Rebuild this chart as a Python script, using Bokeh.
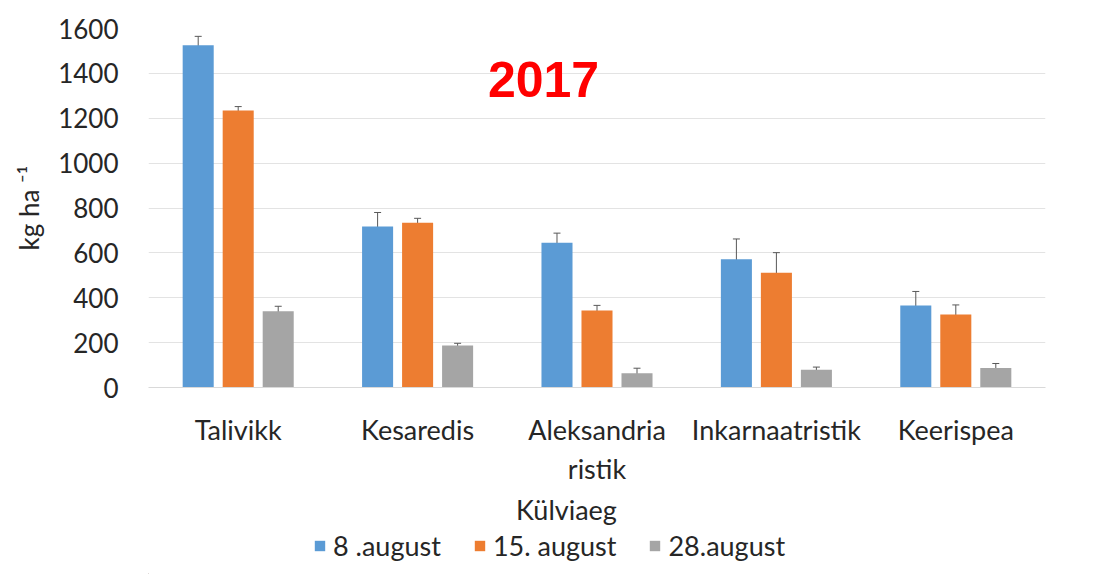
from bokeh.plotting import figure
from bokeh.layouts import column
from bokeh.models import (Range1d, FactorRange, Whisker, ColumnDataSource, Legend,
                          LegendItem, Label, TeeHead, FixedTicker)
from bokeh.transform import dodge
from bokeh.embed import file_html
from bokeh.resources import INLINE

categories = ["Talivikk", "Kesaredis", "Aleksandria\nristik", "Inkarnaatristik", "Keerispea"]
series_names = ["8 .august", "15. august", "28.august"]
aug8 = [1525, 717, 645, 572, 365]
aug8_err = [40, 63, 43, 90, 63]
aug15 = [1234, 734, 343, 511, 325]
aug15_err = [18, 20, 23, 90, 43]
aug28 = [340, 187, 64, 79, 87]
aug28_err = [22, 10, 22, 12, 20]
y_ticks = [0, 200, 400, 600, 800, 1000, 1200, 1400, 1600]
title_text = "2017"
x_title = "Külviaeg"
y_title = "kg ha \u207b\u00b9"

colors = ["#5B9BD5", "#ED7D31", "#A5A5A5"]
offsets = [-0.223, 0.0, 0.223]
FONT = "Lato"
TXT = "#262626"

src = ColumnDataSource(dict(
    cat=categories,
    v0=aug8, lo0=[v - e for v, e in zip(aug8, aug8_err)], up0=[v + e for v, e in zip(aug8, aug8_err)],
    v1=aug15, lo1=[v - e for v, e in zip(aug15, aug15_err)], up1=[v + e for v, e in zip(aug15, aug15_err)],
    v2=aug28, lo2=[v - e for v, e in zip(aug28, aug28_err)], up2=[v + e for v, e in zip(aug28, aug28_err)],
))

# ---------------- main chart ----------------
p = figure(width=1100, height=490, x_range=FactorRange(*categories), y_range=Range1d(0, 1600),
           output_backend="svg", toolbar_location=None,
           min_border_left=148, min_border_right=55, min_border_top=28, min_border_bottom=103)
p.outline_line_color = None
p.background_fill_color = "white"
p.border_fill_color = "white"

for i in range(3):
    p.vbar(x=dodge("cat", offsets[i], range=p.x_range), top=f"v{i}", width=0.173,
           source=src, fill_color=colors[i], line_color=None)
    w = Whisker(base=dodge("cat", offsets[i], range=p.x_range), upper=f"up{i}", lower=f"lo{i}",
                source=src, line_color="#595959", line_width=1,
                upper_head=TeeHead(size=7, line_color="#595959", line_width=1),
                lower_head=TeeHead(size=7, line_color="#595959", line_width=1))
    p.add_layout(w)

p.yaxis.ticker = FixedTicker(ticks=y_ticks)
p.yaxis.axis_line_color = None
p.yaxis.major_tick_line_color = None
p.yaxis.minor_tick_line_color = None
p.yaxis.major_tick_out = 0
p.yaxis.major_label_standoff = 30
p.yaxis.major_label_text_font = FONT
p.yaxis.major_label_text_font_size = "26px"
p.yaxis.major_label_text_color = TXT
p.yaxis.axis_label = y_title
p.yaxis.axis_label_text_font = FONT
p.yaxis.axis_label_text_font_size = "26px"
p.yaxis.axis_label_text_font_style = "normal"
p.yaxis.axis_label_text_color = TXT
p.yaxis.axis_label_standoff = 10

p.xaxis.axis_line_color = "#d9d9d9"
p.xaxis.major_tick_line_color = None
p.xaxis.minor_tick_line_color = None
p.xaxis.major_tick_out = 0
p.xaxis.major_label_standoff = 25
p.xaxis.major_label_text_font = FONT
p.xaxis.major_label_text_font_size = "27px"
p.xaxis.major_label_text_color = TXT

p.xgrid.grid_line_color = None
p.ygrid.grid_line_color = "#e3e3e3"
p.ygrid.grid_line_width = 1

p.add_layout(Label(x=395, y=308, x_units="screen", y_units="screen", text=title_text,
                   text_font="Liberation Sans", text_font_style="bold",
                   text_font_size="50px", text_color="#FF0000",
                   text_align="center", text_baseline="middle"))

# ---------------- legend strip (frame aligned with the chart's frame) ----------------
LH = 84
q = figure(width=1100, height=LH, x_range=Range1d(0, 897), y_range=Range1d(0, LH),
           output_backend="svg", toolbar_location=None, x_axis_type=None, y_axis_type=None,
           min_border_left=148, min_border_right=55, min_border_top=0, min_border_bottom=0)
q.outline_line_color = None
q.xgrid.grid_line_color = None
q.ygrid.grid_line_color = None
q.border_fill_color = "white"

q.add_layout(Label(x=418, y=65, text=x_title, text_font=FONT, text_font_size="27px",
                   text_color=TXT, text_align="center", text_baseline="middle"))

dummies = [q.vbar(x=[-1000], top=[1], width=1, fill_color=colors[i], line_color=None)
           for i in range(3)]
legend = Legend(items=[LegendItem(label=series_names[i], renderers=[dummies[i]]) for i in range(3)],
                orientation="horizontal", location=(165, 12),
                padding=0, margin=0, spacing=32, label_standoff=7,
                glyph_width=13, glyph_height=13,
                border_line_color=None, background_fill_alpha=0,
                label_text_font=FONT, label_text_font_size="27px", label_text_color=TXT)
q.add_layout(legend, "center")

layout = column(p, q, spacing=0)
open("out.html", "w").write(file_html(layout, INLINE))
